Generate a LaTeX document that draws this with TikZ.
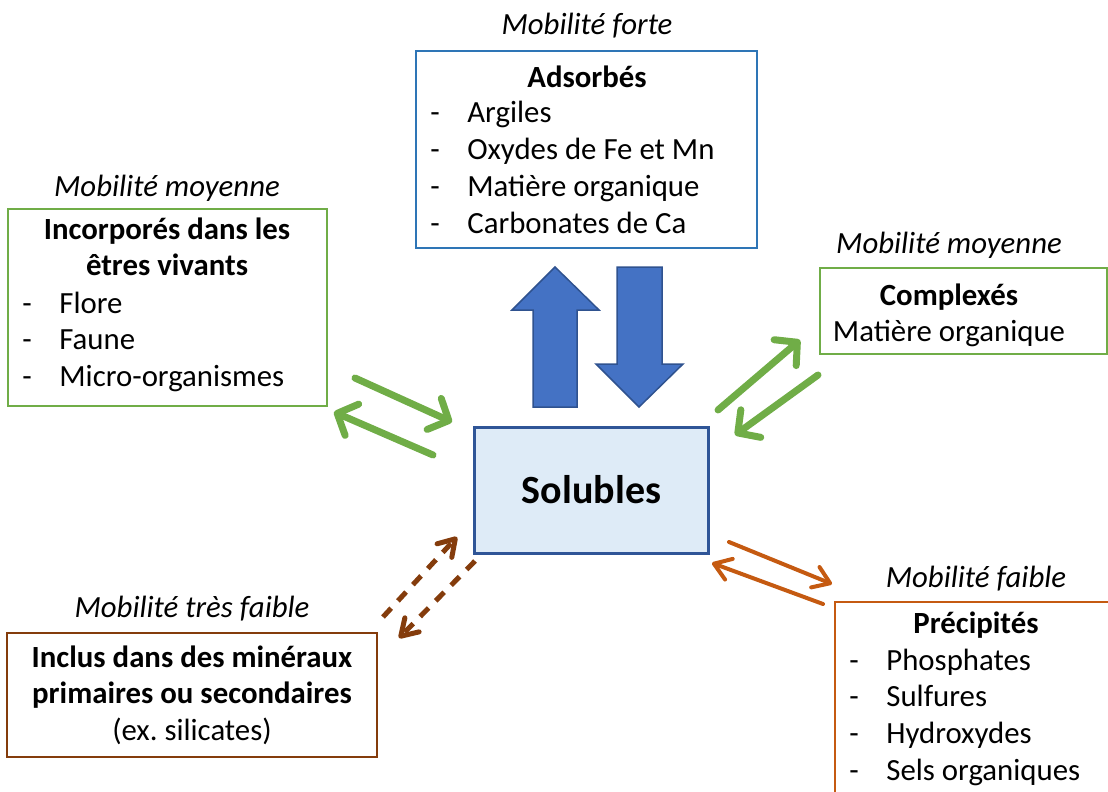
\documentclass[tikz,border=0pt]{standalone}
\usepackage{fontspec}
\setmainfont{Carlito}
\usetikzlibrary{arrows.meta}

\definecolor{bleuCadre}{HTML}{2E75B6}
\definecolor{bleuFleche}{HTML}{4472C4}
\definecolor{bleuBord}{HTML}{2F528F}
\definecolor{bleuFond}{HTML}{DEEBF7}
\definecolor{bleuSol}{HTML}{2F5597}
\definecolor{vertP}{HTML}{70AD47}
\definecolor{brunP}{HTML}{843C0C}
\definecolor{orangeP}{HTML}{C55A11}

\newcommand{\corps}{\fontsize{15.4}{18.4}\selectfont}
\newcommand{\listeTirets}[1]{\begin{tabular}[t]{@{}p{18.5pt}@{}l@{}}#1\end{tabular}}
\newcommand{\lignes}[1]{\begin{tabular}[t]{@{}c@{}}#1\end{tabular}}

\begin{document}
\begin{tikzpicture}[
          x=0.5pt, y=-0.5pt,
          every node/.style = {inner sep=0pt, font=\corps},
          cadre/.style = {draw, line width=1pt},
          mob/.style = {anchor=base, font=\corps\itshape},
          titre/.style = {anchor=base, font=\corps\bfseries},
          liste/.style = {anchor=base west},
          fvert/.style = {vertP, line width=3.5pt, line cap=round, -{Straight Barb[length=8pt,width=17pt,round]}},
          forange/.style = {orangeP, line width=2pt, line cap=round, -{Straight Barb[length=8pt,width=11pt,round]}},
          fbrun/.style = {brunP, line width=2.5pt, dash pattern=on 6pt off 5pt, -{Straight Barb[length=8pt,width=10pt,round]}},
          bloc/.style = {fill=bleuFleche, draw=bleuBord, line width=0.75pt}
        ]
        \useasboundingbox (0,0) rectangle (1108,792);

        % boites
        \node[cadre, draw=bleuCadre, minimum width=170.5pt, minimum height=98.5pt] (adsorbes) at (586.5,149.5) {};
        \node[cadre, draw=vertP, minimum width=159.5pt, minimum height=98.5pt] (incorpores) at (167.5,307.5) {};
        \node[cadre, draw=vertP, minimum width=143.5pt, minimum height=43pt] (complexes) at (963.5,311) {};
        \node[cadre, draw=bleuSol, fill=bleuFond, line width=1.5pt, minimum width=117pt, minimum height=63pt] (solubles) at (591,490) {};
        \node[cadre, draw=brunP, minimum width=185pt, minimum height=62pt] (inclus) at (192,695) {};
        \node[cadre, draw=orangeP, minimum width=145pt, minimum height=108pt] (precipites) at (980,710) {};

        % textes
        \node[mob] (mobForte) at (587,35) {Mobilité forte};
        \node[titre] (adsTitre) at (587,88) {Adsorbés};
        \node[liste] (adsListe) at (430,123) {\listeTirets{- & Argiles\\ - & Oxydes de Fe et Mn\\ - & Matière organique\\ - & Carbonates de Ca}};

        \node[mob] (mobMoyG) at (167,196) {Mobilité moyenne};
        \node[titre] (incTitre) at (167,239) {\lignes{Incorporés dans les\\ êtres vivants}};
        \node[liste] (incListe) at (22,313) {\listeTirets{- & Flore\\ - & Faune\\ - & Micro-organismes}};

        \node[mob] (mobMoyD) at (949,253) {Mobilité moyenne};
        \node[titre] (cpxTitre) at (949,305) {Complexés};
        \node[anchor=base] (cpxTexte) at (949,341) {Matière organique};

        \node[anchor=base, font=\fontsize{20}{24}\selectfont\bfseries] (solTexte) at (591.5,503) {Solubles};

        \node[mob] (mobTresFaible) at (192,617) {Mobilité très faible};
        \node[anchor=base] (incluTexte) at (192,667) {\lignes{\textbf{Inclus dans des minéraux}\\ \textbf{primaires ou secondaires}\\ (ex.\ silicates)}};

        \node[mob] (mobFaible) at (976,587) {Mobilité faible};
        \node[titre] (preTitre) at (976,633) {Précipités};
        \node[liste] (preListe) at (849,670) {\listeTirets{- & Phosphates\\ - & Sulfures\\ - & Hydroxydes\\ - & Sels organiques}};

        % fleches bleues
        \draw[bloc] (533,407) -- (533,310) -- (512,310) -- (555,267) -- (599,310) -- (577,310) -- (577,407) -- cycle;
        \draw[bloc] (617,267) -- (662,267) -- (662,364) -- (683,364) -- (639,407) -- (596,364) -- (617,364) -- cycle;

        % points des fleches
        \coordinate (incDep) at (355,378);
        \coordinate (incArr) at (452,422);
        \coordinate (solIncDep) at (433,455);
        \coordinate (solIncArr) at (334,412);
        \coordinate (cpxDep) at (718,410);
        \coordinate (cpxArr) at (800,340);
        \coordinate (solCpxDep) at (818,375);
        \coordinate (solCpxArr) at (735,435);
        \coordinate (incluDep) at (383,617);
        \coordinate (incluArr) at (457,537);
        \coordinate (solIncluDep) at (475,561);
        \coordinate (solIncluArr) at (399,638);
        \coordinate (preDep) at (729,542);
        \coordinate (preArr) at (832,584);
        \coordinate (solPreDep) at (823,604);
        \coordinate (solPreArr) at (712,563);

        \draw[fvert] (incDep) -- (incArr);
        \draw[fvert] (solIncDep) -- (solIncArr);
        \draw[fvert] (cpxDep) -- (cpxArr);
        \draw[fvert] (solCpxDep) -- (solCpxArr);
        \draw[fbrun] (incluDep) -- (incluArr);
        \draw[fbrun] (solIncluDep) -- (solIncluArr);
        \draw[forange] (preDep) -- (preArr);
        \draw[forange] (solPreDep) -- (solPreArr);
      \end{tikzpicture}
\end{document}
